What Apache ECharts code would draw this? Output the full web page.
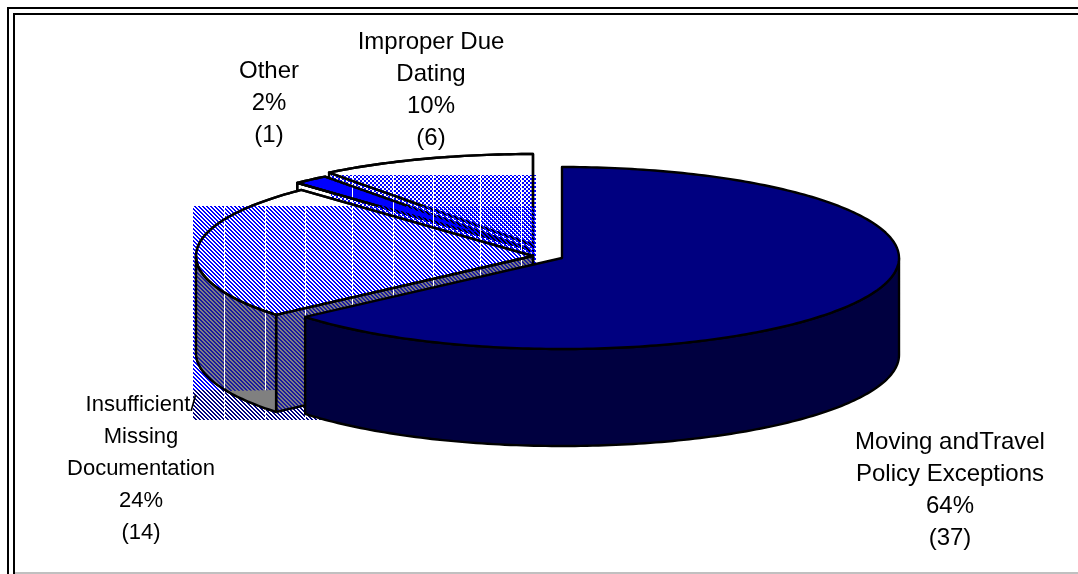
<!DOCTYPE html>
<html>
<head>
<meta charset="utf-8">
<title>Pie</title>
<style>
  html, body { margin: 0; padding: 0; background: #fff; }
  #main { width: 1078px; height: 574px; }
</style>
</head>
<body>
<div id="main"></div>
<script src="https://cdn.jsdelivr.net/npm/echarts@6/dist/echarts.min.js"></script>
<script>
// chart values
var categories = ['Moving andTravel\nPolicy Exceptions', 'Insufficient/\nMissing\nDocumentation', 'Other', 'Improper Due\nDating'];
var percents = [64, 24, 2, 10];
var counts = [37, 14, 1, 6];

// layout of the exploded pie
var sliceCenters = [[562, 258], [533, 256], [529, 249], [533, 245]];
var labelCenters = [[950, 490], [141, 469], [269, 103], [431, 90]];
var labelSizes = [24, 22, 24, 24];
var topColors = ['#000080', '#ffffff', '#0000ff', '#ffffff'];
var wallColors = ['#000040', '#808080', '#ffffff', '#ffffff'];
var rx = 337, ry = 91, depth = 97;
var total = counts.reduce(function (a, b) { return a + b; }, 0);

// tile with the white seams the original bitmap fill has
function makeTile(color, isOn) {
  var c = document.createElement('canvas');
  c.width = 128; c.height = 4;
  var ctx = c.getContext('2d');
  for (var y = 0; y < 4; y++) {
    for (var x = 0; x < 128; x++) {
      if (x === 9 || x === 49 || x === 96) {
        ctx.fillStyle = '#fff';
        ctx.fillRect(x, y, 1, 1);
      } else if (isOn(x, y)) {
        ctx.fillStyle = color;
        ctx.fillRect(x, y, 1, 1);
      }
    }
  }
  return { image: c, repeat: 'repeat' };
}
function hatchOn(x, y) { return ((x - y + 400) % 4) < 2; }
function checkOn(x, y) { return ((x >> 1) + (y >> 1)) % 2 === 0; }
var hatchBlue = makeTile('#0000ff', hatchOn);
var hatchNavy = makeTile('#000080', hatchOn);
var hatchWall = makeTile('#1818a0', hatchOn);
var checker = makeTile('#0000ff', checkOn);

function rimPoint(i, deg, drop) {
  var t = deg * Math.PI / 180;
  return [
    sliceCenters[i][0] + rx * Math.sin(t),
    sliceCenters[i][1] - ry * Math.cos(t) + (drop || 0)
  ];
}
function arc(i, from, to, drop) {
  var pts = [];
  var n = Math.max(2, Math.ceil(Math.abs(to - from)));
  for (var k = 0; k <= n; k++) {
    pts.push(rimPoint(i, from + (to - from) * k / n, drop));
  }
  return pts;
}
function poly(points, fill, stroke) {
  return {
    type: 'polygon',
    shape: { points: points },
    style: { fill: fill || 'none', stroke: stroke || 'none', lineWidth: 2.4, lineJoin: 'round' }
  };
}
function fillRect(x, y, w, h, fill) {
  return { type: 'rect', shape: { x: x, y: y, width: w, height: h }, style: { fill: fill } };
}

function renderSlice(params, api) {
  var i = api.value(0);
  var start = 0;
  for (var s = 0; s < i; s++) start += counts[s] / total * 360;
  var end = start + api.value(1) / total * 360;
  var c = sliceCenters[i];

  // walls: the start cut and the part of the rim that faces the viewer
  var cut = null, rim = null;
  if (start > 180) {
    var p = rimPoint(i, start);
    cut = [c, p, [p[0], p[1] + depth], [c[0], c[1] + depth]];
  }
  var wallFrom = Math.max(start, 90), wallTo = Math.min(end, 270);
  if (wallTo > wallFrom) {
    rim = arc(i, wallFrom, wallTo, 0).concat(arc(i, wallTo, wallFrom, depth));
  }
  var top = [c].concat(arc(i, start, end, 0));

  var children = [];
  function addBody(fillOn) {
    if (cut) children.push(poly(cut, fillOn ? wallColors[i] : null, '#000'));
    if (rim) children.push(poly(rim, fillOn ? wallColors[i] : null, '#000'));
    children.push(poly(top, fillOn ? topColors[i] : null, '#000'));
  }
  addBody(true);

  // bitmap fills of the original spill out as plain rectangles
  if (i === 2) {
    children.push(fillRect(331, 175, 205, 87, checker));
  }
  if (i === 1) {
    children.push(fillRect(193, 206, 343, 184, hatchBlue));
    children.push(fillRect(193, 390, 343, 30, hatchNavy));
    // on the gray walls the stripes read darker
    children.push(poly(rim, wallColors[1]));
    children.push(poly(cut, wallColors[1]));
    children.push(poly(rim, hatchWall));
    children.push(poly(cut, hatchWall));
    var band = arc(1, start, 270, depth).filter(function (q) { return q[1] >= 390; });
    band.unshift([rimPoint(1, start)[0], 390]);
    children.push(poly(band, wallColors[1]));
  }
  if (i === 1 || i === 2) addBody(false);
  if (i === 2) {
    // the improper due dating outline sits on the same checker
    children.push(poly([sliceCenters[3]].concat(arc(3, end, 360, 0)), null, '#000'));
  }

  children.push({
    type: 'text',
    style: {
      x: labelCenters[i][0],
      y: labelCenters[i][1],
      text: categories[i] + '\n' + percents[i] + '%\n(' + api.value(1) + ')',
      fill: '#000',
      font: labelSizes[i] + 'px "Liberation Sans", Arial, sans-serif',
      align: 'center',
      verticalAlign: 'middle',
      lineHeight: 32
    }
  });
  return { type: 'group', children: children };
}

var myChart = echarts.init(document.getElementById('main'), null, { renderer: 'canvas' });
myChart.setOption({
  animation: false,
  backgroundColor: '#ffffff',
  graphic: [
    { type: 'rect', silent: true, z: -1, shape: { x: 8, y: 8, width: 1200, height: 700 }, style: { fill: 'none', stroke: '#000', lineWidth: 2 } },
    { type: 'rect', silent: true, z: -1, shape: { x: 14, y: 14, width: 1200, height: 700 }, style: { fill: 'none', stroke: '#000', lineWidth: 2 } },
    { type: 'line', silent: true, z: -1, shape: { x1: 15, y1: 573, x2: 1078, y2: 573 }, style: { stroke: '#c0c0c0', lineWidth: 2 } }
  ],
  series: [
    {
      type: 'custom',
      coordinateSystem: 'none',
      silent: true,
      clip: false,
      renderItem: renderSlice,
      // painted back to front
      data: [3, 2, 1, 0].map(function (i) { return [i, counts[i]]; })
    }
  ]
});
</script>
</body>
</html>
